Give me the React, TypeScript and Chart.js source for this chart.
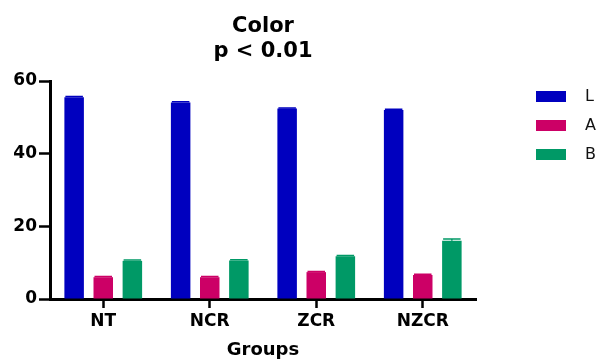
import React, { useEffect, useRef } from "react";
import { Chart, registerables } from "chart.js";

Chart.register(...registerables);

const categories = ["NT", "NCR", "ZCR", "NZCR"];
const seriesNames = ["L", "A", "B"];
const valuesL = [55.5, 54.1, 52.4, 52.0];
const valuesA = [6.0, 6.0, 7.4, 6.6];
const valuesB = [10.5, 10.6, 11.8, 16.0];
const errorsL = [0.25, 0.2, 0.2, 0.2];
const errorsA = [0.2, 0.2, 0.2, 0.2];
const errorsB = [0.2, 0.2, 0.2, 0.5];
const seriesColors = ["#0000BF", "#CC0066", "#009966"];
const yTickValues = [0, 20, 40, 60];
const titleLines = ["Color", "p < 0.01"];
const xAxisTitle = "Groups";

const FONT = "'DejaVu Sans', 'Liberation Sans', Arial, sans-serif";

const errorBarPlugin = {
  id: "errorBars",
  afterDatasetsDraw(chart: any) {
    const ctx = chart.ctx;
    const yScale = chart.scales.y;
    chart.data.datasets.forEach((ds: any, i: number) => {
      const meta = chart.getDatasetMeta(i);
      meta.data.forEach((bar: any, j: number) => {
        const v = ds.data[j];
        const e = ds.errors ? ds.errors[j] : 0;
        const yTop = yScale.getPixelForValue(v + e);
        const half = bar.width / 2 - 1;
        ctx.save();
        ctx.strokeStyle = ds.backgroundColor;
        ctx.lineWidth = 1.5;
        ctx.beginPath();
        ctx.moveTo(bar.x, bar.y);
        ctx.lineTo(bar.x, yTop);
        ctx.moveTo(bar.x - half, yTop);
        ctx.lineTo(bar.x + half, yTop);
        ctx.stroke();
        ctx.restore();
      });
    });
  },
};

const titleLegendPlugin = {
  id: "titleLegend",
  afterDraw(chart: any) {
    const ctx = chart.ctx;
    const area = chart.chartArea;
    ctx.save();
    // title centered over plot area
    ctx.fillStyle = "#000";
    ctx.font = `bold 21px ${FONT}`;
    ctx.textAlign = "center";
    ctx.textBaseline = "alphabetic";
    const cx = (area.left + area.right) / 2;
    titleLines.forEach((line, i) => {
      ctx.fillText(line, cx, 32 + i * 25);
    });
    // legend
    ctx.font = `16px ${FONT}`;
    ctx.textAlign = "left";
    ctx.textBaseline = "middle";
    chart.data.datasets.forEach((ds: any, i: number) => {
      const bx = area.right + 60;
      const by = area.top + 10 + i * 29;
      ctx.fillStyle = ds.backgroundColor;
      ctx.fillRect(bx, by, 30, 11);
      ctx.fillStyle = "#111";
      ctx.fillText(ds.label, bx + 49, by + 6);
    });
    ctx.restore();
  },
};

export default function App() {
  const canvasRef = useRef<HTMLCanvasElement | null>(null);

  useEffect(() => {
    if (!canvasRef.current) return;
    const allValues = [valuesL, valuesA, valuesB];
    const allErrors = [errorsL, errorsA, errorsB];
    const chart = new Chart(canvasRef.current, {
      type: "bar",
      data: {
        labels: categories,
        datasets: seriesNames.map((name, i) => ({
          label: name,
          data: allValues[i],
          errors: allErrors[i],
          backgroundColor: seriesColors[i],
          borderWidth: 0,
          categoryPercentage: 0.82,
          barPercentage: 0.67,
        })) as any,
      },
      options: {
        animation: false,
        responsive: false,
        devicePixelRatio: 1,
        layout: { padding: { top: 81, right: 121, left: 0, bottom: 0 } },
        plugins: {
          legend: { display: false },
          title: { display: false },
          tooltip: { enabled: false },
        },
        scales: {
          x: {
            offset: true,
            afterFit: (scale: any) => {
              scale.height = 62;
            },
            grid: {
              offset: false,
              drawOnChartArea: false,
              drawTicks: true,
              tickLength: 9,
              tickWidth: 2.5,
              tickColor: "#000",
            },
            border: { color: "#000", width: 3 },
            ticks: {
              color: "#000",
              font: { family: FONT, size: 17, weight: "bold" },
              padding: 3,
            },
            title: {
              display: true,
              text: xAxisTitle,
              color: "#000",
              font: { family: FONT, size: 18, weight: "bold" },
              padding: { top: 4, bottom: 0 },
            },
          },
          y: {
            min: 0,
            max: 60,
            afterFit: (scale: any) => {
              scale.width = 50;
            },
            afterBuildTicks: (scale: any) => {
              scale.ticks = yTickValues.map((v) => ({ value: v }));
            },
            grid: {
              drawOnChartArea: false,
              drawTicks: true,
              tickLength: 11,
              tickWidth: 2.5,
              tickColor: "#000",
            },
            border: { color: "#000", width: 3 },
            ticks: {
              color: "#000",
              font: { family: FONT, size: 17, weight: "bold" },
              padding: 2,
            },
          },
        },
      } as any,
      plugins: [errorBarPlugin, titleLegendPlugin],
    });
    return () => chart.destroy();
  }, []);

  return (
    <div style={{ position: "fixed", left: 0, top: 0, width: 597, height: 361, background: "#fff" }}>
      <canvas ref={canvasRef} width={597} height={361} />
    </div>
  );
}
